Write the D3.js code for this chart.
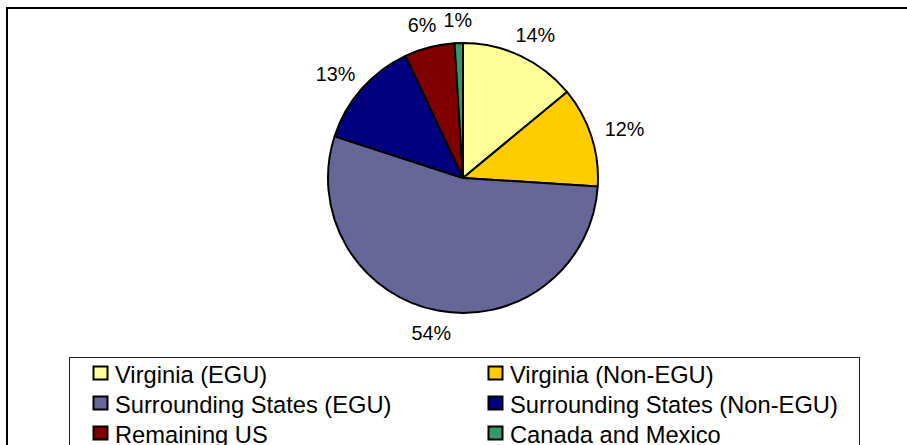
<!DOCTYPE html>
<html>
<head>
<meta charset="utf-8">
<script src="https://cdn.jsdelivr.net/npm/d3@7"></script>
<style>
  html, body { margin: 0; padding: 0; background: #fff; }
  svg { display: block; font-family: "Liberation Sans", Arial, sans-serif; }
</style>
</head>
<body>
<svg id="chart" width="907" height="445"></svg>
<script>
// Share of contribution by source region (percent)
const categories = [
  "Virginia (EGU)",
  "Virginia (Non-EGU)",
  "Surrounding States (EGU)",
  "Surrounding States (Non-EGU)",
  "Remaining US",
  "Canada and Mexico"
];
const values = [14, 12, 54, 13, 6, 1];
const colors = ["#FFFF99", "#FFCC00", "#666699", "#000080", "#800000", "#339966"];

const W = 907, H = 445;
const svg = d3.select("#chart");

svg.append("rect").attr("width", W).attr("height", H).attr("fill", "#fff");

// outer chart frame (runs past the right and bottom edges)
svg.append("rect")
  .attr("x", 7).attr("y", 8)
  .attr("width", W + 20).attr("height", H + 20)
  .attr("fill", "none").attr("stroke", "#000").attr("stroke-width", 2);

// pie
const cx = 463, cy = 178, R = 135;
const data = categories.map((c, i) => ({ name: c, value: values[i], color: colors[i] }));
const pie = d3.pie().value(d => d.value).sort(null);
const arcs = pie(data);
const arc = d3.arc().innerRadius(0).outerRadius(R);

const g = svg.append("g").attr("transform", `translate(${cx},${cy})`);
g.selectAll("path.slice")
  .data(arcs)
  .join("path")
  .attr("class", "slice")
  .attr("d", arc)
  .attr("fill", d => d.data.color)
  .attr("stroke", "#000")
  .attr("stroke-width", 2)
  .attr("stroke-linejoin", "round");

// percentage labels placed just outside each slice
const labelR = R + 15;
const labelFont = 19.8;
const fmt = d => d.data.value + "%";
const lbl = g.selectAll("text.pct")
  .data(arcs)
  .join("text")
  .attr("class", "pct")
  .attr("font-size", labelFont)
  .attr("fill", "#000")
  .attr("text-anchor", "middle")
  .attr("dy", "0.35em")
  .text(fmt);

lbl.each(function(d) {
  const a = (d.startAngle + d.endAngle) / 2;
  const s = Math.sin(a), c = Math.cos(a);
  const w = this.getComputedTextLength();
  const h = labelFont * 0.8;
  const px = labelR * s, py = -labelR * c;
  d3.select(this)
    .attr("x", px + s * w / 2)
    .attr("y", py - c * h / 2);
});

// legend
const legX = 69, legY = 357;
svg.append("rect")
  .attr("x", legX + 0.5).attr("y", legY + 0.5)
  .attr("width", 790).attr("height", 120)
  .attr("fill", "#fff").attr("stroke", "#222").attr("stroke-width", 1);

const colX = [93, 488];
const rowY = [366, 396, 426];
const item = svg.selectAll("g.leg")
  .data(data)
  .join("g")
  .attr("class", "leg")
  .attr("transform", (d, i) => `translate(${colX[i % 2]},${rowY[Math.floor(i / 2)]})`);

item.append("rect")
  .attr("x", 0.5).attr("y", 0.5)
  .attr("width", 14).attr("height", 13)
  .attr("fill", d => d.color)
  .attr("stroke", "#000").attr("stroke-width", 2);

item.append("text")
  .attr("x", 22).attr("y", 17)
  .attr("font-size", 23.7)
  .attr("fill", "#000")
  .text(d => d.name);
</script>
</body>
</html>
